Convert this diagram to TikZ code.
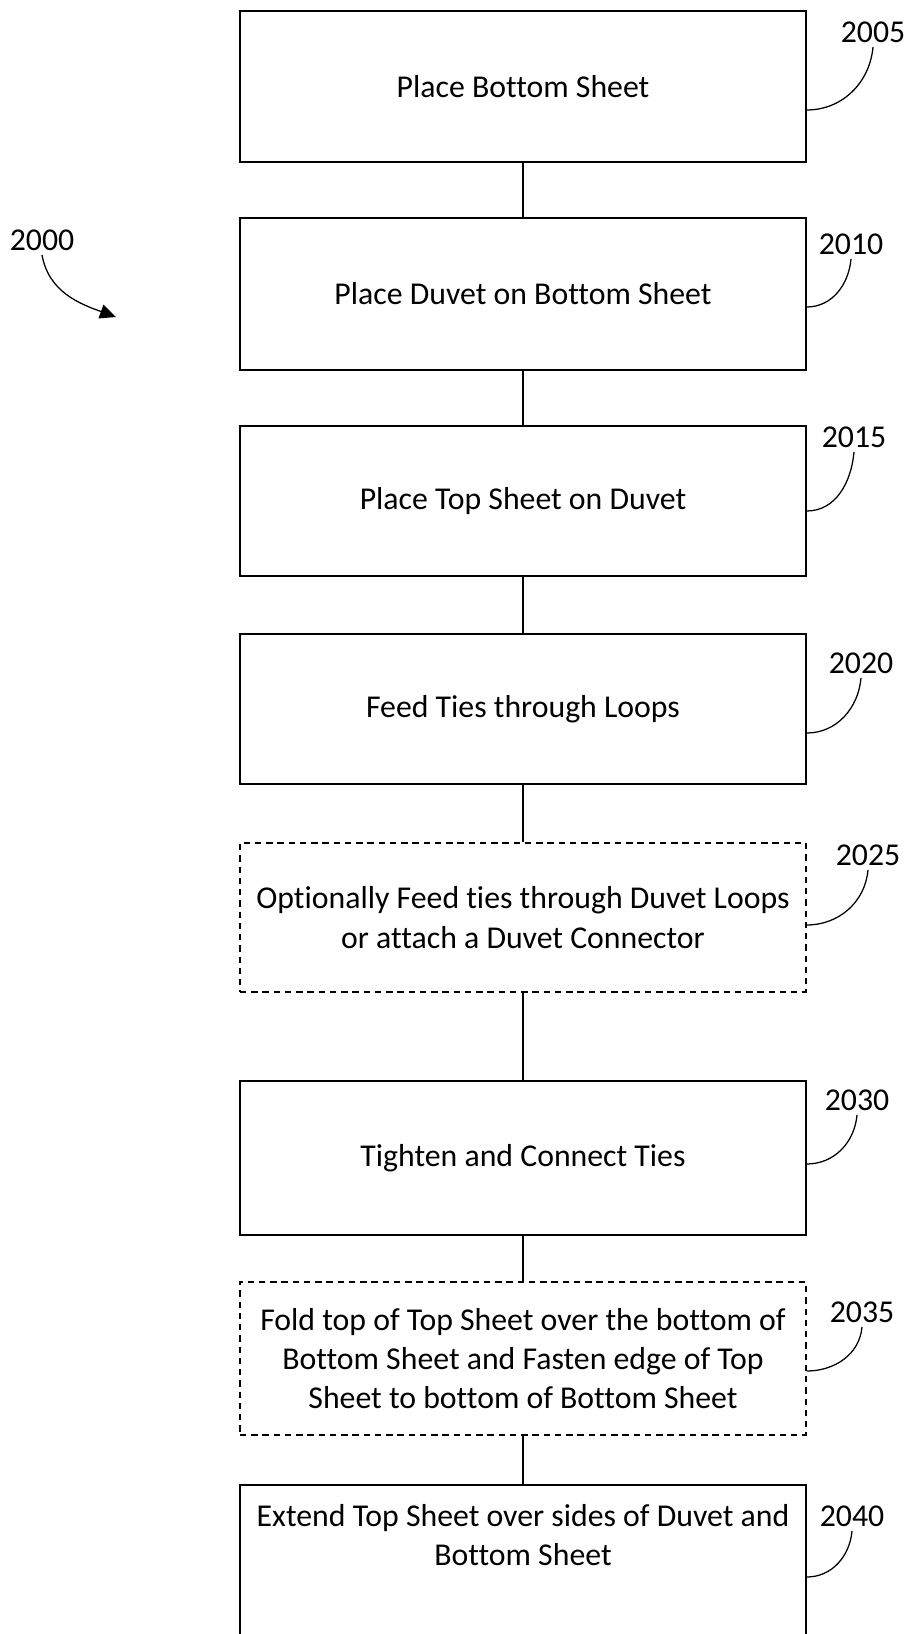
\documentclass[tikz,border=0pt]{standalone}
\usepackage{fontspec}
\setmainfont{Carlito}[Ligatures={NoCommon, NoContextual}]
\usetikzlibrary{arrows.meta, calc}
\tikzset{
  stepbox/.style={draw, rectangle, line width=0.9pt, minimum width=14.15cm, align=center, inner sep=4pt},
  optbox/.style={stepbox, dash pattern=on 4.5pt off 3.5pt},
  refnum/.style={inner sep=3pt},
  link/.style={line width=0.9pt},
  leader/.style={line width=0.9pt},
}

\begin{document}
\begin{tikzpicture}[x=0.025cm, y=0.025cm, font=\fontsize{22.6}{28}\selectfont]
  % --- sheet frame (pixel units, y running down as negative) ---
  \useasboundingbox (0,0) rectangle (911,-1634);
  \clip (0,0) rectangle (911,-1634);
  % --- process steps ---
  \node[stepbox, minimum height=3.775cm] (b2005) at (523,-86.5) {Place Bottom Sheet};
  \node[stepbox, minimum height=3.8cm]   (b2010) at (523,-294) {Place Duvet on Bottom Sheet};
  \node[stepbox, minimum height=3.75cm]  (b2015) at (523,-501) {Place Top Sheet on Duvet};
  \node[stepbox, minimum height=3.75cm]  (b2020) at (523,-709) {Feed Ties through Loops};
  \node[optbox, minimum height=3.725cm]  (b2025) at (523,-917.5) {Optionally Feed ties through Duvet Loops\\or attach a Duvet Connector};
  \node[stepbox, minimum height=3.85cm]  (b2030) at (523,-1158) {Tighten and Connect Ties};
  \node[optbox, minimum height=3.825cm]  (b2035) at (523,-1358.5) {Fold top of Top Sheet over the bottom of\\Bottom Sheet and Fasten edge of Top\\Sheet to bottom of Bottom Sheet};
  % last step runs off the sheet, its text sits high in the box
  \node[stepbox, minimum height=5cm,
        label={[align=center, yshift=1.25cm]center:{Extend Top Sheet over sides of Duvet and\\Bottom Sheet}}]
        (b2040) at (523,-1585) {};
  % --- flow links ---
  \foreach \a/\b in {2005/2010, 2010/2015, 2015/2020, 2020/2025, 2025/2030, 2030/2035, 2035/2040}
    \draw[link] (b\a) -- (b\b);
  % --- reference numerals with their leader curves ---
  \foreach \n/\lx/\ly/\dy in {2005/873/32/-23.5, 2010/851/244/-13, 2015/854/437/-10,
        2020/861/663/-24, 2025/868/855/-7.5, 2030/857/1100/-6,
        2035/862/1312/-12.5, 2040/852/1516/8}{
    \node[refnum] (l\n) at (\lx,-\ly) {\n};
    \draw[leader] (l\n.south) to[out=-95, in=0] ($(b\n.east)+(0,\dy)$);
  }
  % --- figure numeral pointing at the chart ---
  \node[refnum] (l2000) at (42,-240) {2000};
  \coordinate (p2000) at (116,-317);
  \draw[leader, -{Triangle[length=0.4cm, width=0.36cm]}] (l2000.south) to[out=-80, in=160] (p2000);
\end{tikzpicture}
\end{document}
